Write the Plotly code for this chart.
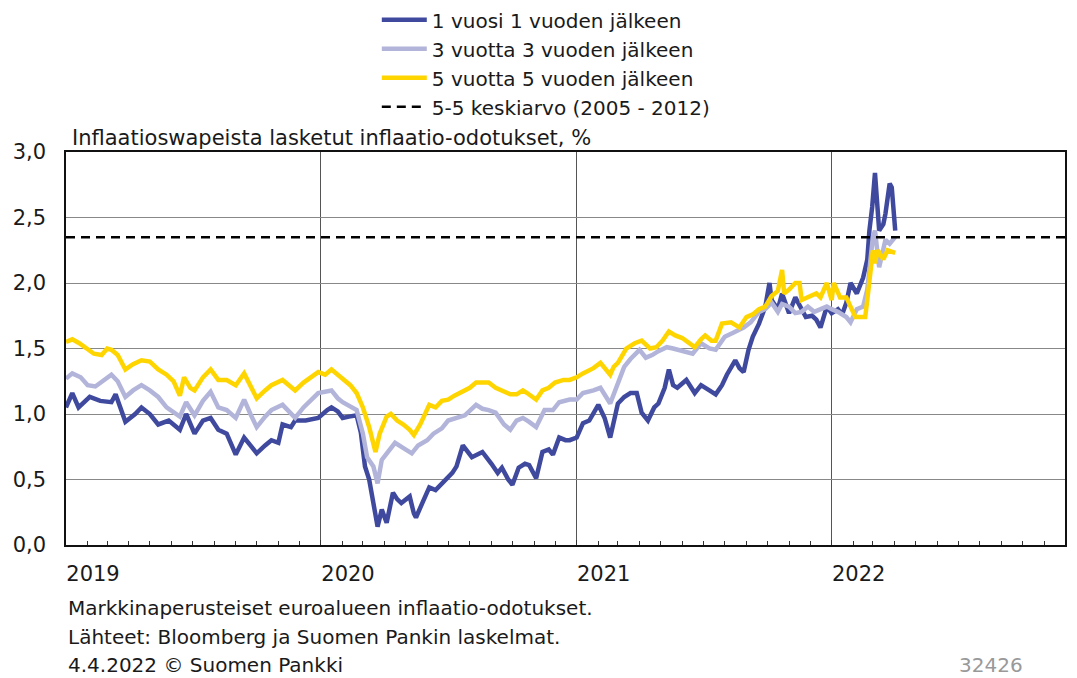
import plotly.graph_objects as go

# ---- data ----
d1_dates = ["2019-01-01","2019-01-10","2019-01-19","2019-02-04","2019-02-19","2019-03-07","2019-03-13","2019-03-27",
            "2019-04-10","2019-04-19","2019-05-01","2019-05-13","2019-05-28","2019-06-13","2019-06-22","2019-07-04",
            "2019-07-16","2019-07-27","2019-08-07","2019-08-19","2019-09-01","2019-09-13","2019-09-22","2019-10-01",
            "2019-10-13","2019-10-22","2019-11-01","2019-11-07","2019-11-19","2019-11-25","2019-12-10","2019-12-28",
            "2020-01-10","2020-01-16","2020-01-25","2020-02-01","2020-02-10","2020-02-21","2020-02-27","2020-03-04",
            "2020-03-10","2020-03-16","2020-03-22","2020-03-28","2020-04-04","2020-04-13","2020-04-19","2020-04-25",
            "2020-05-07","2020-05-13","2020-05-16","2020-05-25","2020-06-04","2020-06-13","2020-06-22","2020-06-28",
            "2020-07-07","2020-07-13","2020-07-22","2020-08-04","2020-08-13","2020-08-19","2020-09-01","2020-09-10",
            "2020-09-16","2020-09-25","2020-10-01","2020-10-10","2020-10-19","2020-10-25","2020-11-04","2020-11-13",
            "2020-11-22","2020-11-28","2020-12-07","2020-12-16","2020-12-22","2021-01-01","2021-01-10","2021-01-19",
            "2021-02-01","2021-02-10","2021-02-18","2021-03-01","2021-03-10","2021-03-19","2021-03-28","2021-04-04",
            "2021-04-13","2021-04-22","2021-04-28","2021-05-07","2021-05-13","2021-05-19","2021-05-25","2021-06-07",
            "2021-06-19","2021-06-28","2021-07-10","2021-07-19","2021-07-28","2021-08-04","2021-08-16","2021-08-22",
            "2021-08-28","2021-09-04","2021-09-10","2021-09-19","2021-09-28","2021-10-04","2021-10-07","2021-10-16",
            "2021-10-22","2021-11-01","2021-11-10","2021-11-19","2021-11-25","2021-12-04","2021-12-10","2021-12-16",
            "2021-12-25","2022-01-01","2022-01-10","2022-01-16","2022-01-22","2022-01-28","2022-02-06","2022-02-15",
            "2022-02-21","2022-02-24","2022-02-28","2022-03-04","2022-03-10","2022-03-16","2022-03-19","2022-03-25",
            "2022-03-28","2022-04-02"]
d1_vals = [1.05,1.16,1.05,1.13,1.10,1.09,1.15,0.94,
           1.00,1.05,1.00,0.92,0.95,0.88,1.00,0.85,
           0.95,0.97,0.88,0.85,0.69,0.82,0.76,0.70,
           0.76,0.80,0.78,0.92,0.90,0.95,0.95,0.97,
           1.03,1.05,1.02,0.97,0.98,0.99,0.86,0.60,
           0.50,0.30,0.14,0.27,0.17,0.40,0.35,0.32,
           0.37,0.24,0.21,0.32,0.44,0.42,0.47,0.50,
           0.55,0.60,0.76,0.67,0.70,0.71,0.62,0.55,
           0.59,0.50,0.46,0.59,0.62,0.61,0.51,0.71,
           0.73,0.69,0.82,0.80,0.80,0.82,0.93,0.95,
           1.07,0.97,0.82,1.08,1.13,1.16,1.16,1.01,
           0.95,1.05,1.08,1.20,1.34,1.22,1.20,1.26,
           1.16,1.22,1.18,1.15,1.22,1.30,1.41,1.35,
           1.32,1.49,1.59,1.69,1.82,2.00,1.87,1.80,
           1.92,1.77,1.89,1.80,1.74,1.75,1.72,1.66,
           1.82,1.77,1.80,1.76,1.85,2.00,1.92,2.04,
           2.18,2.40,2.58,2.84,2.40,2.45,2.53,2.76,
           2.73,2.40]

d3_dates = ["2019-01-01","2019-01-10","2019-01-22","2019-02-01","2019-02-12","2019-02-23","2019-03-07","2019-03-16",
            "2019-03-27","2019-04-07","2019-04-19","2019-05-01","2019-05-13","2019-05-25","2019-06-13","2019-06-22",
            "2019-07-04","2019-07-16","2019-07-27","2019-08-07","2019-08-19","2019-09-01","2019-09-13","2019-09-22",
            "2019-10-01","2019-10-13","2019-10-22","2019-11-07","2019-11-16","2019-11-25","2019-12-07","2019-12-16",
            "2019-12-28","2020-01-16","2020-01-25","2020-02-01","2020-02-15","2020-02-21","2020-03-01","2020-03-07",
            "2020-03-16","2020-03-22","2020-03-28","2020-04-07","2020-04-16","2020-04-28","2020-05-10","2020-05-19",
            "2020-06-01","2020-06-10","2020-06-22","2020-07-01","2020-07-13","2020-07-25","2020-08-10","2020-08-19",
            "2020-08-28","2020-09-07","2020-09-19","2020-09-28","2020-10-07","2020-10-16","2020-10-25","2020-11-04",
            "2020-11-16","2020-11-28","2020-12-07","2020-12-22","2021-01-01","2021-01-10","2021-01-25","2021-02-04",
            "2021-02-18","2021-03-01","2021-03-10","2021-03-19","2021-04-01","2021-04-10","2021-04-19","2021-04-28",
            "2021-05-10","2021-05-19","2021-06-04","2021-06-16","2021-06-28","2021-07-10","2021-07-19","2021-08-01",
            "2021-08-13","2021-08-28","2021-09-07","2021-09-19","2021-09-28","2021-10-07","2021-10-16","2021-10-22",
            "2021-11-01","2021-11-10","2021-11-19","2021-11-28","2021-12-07","2021-12-16","2021-12-25","2022-01-01",
            "2022-01-10","2022-01-22","2022-01-28","2022-02-06","2022-02-15","2022-02-21","2022-02-25","2022-03-01",
            "2022-03-04","2022-03-10","2022-03-19","2022-03-25","2022-04-02"]
d3_vals = [1.27,1.31,1.28,1.22,1.21,1.25,1.30,1.25,
           1.13,1.18,1.22,1.18,1.13,1.05,0.98,1.09,
           0.99,1.10,1.17,1.05,1.03,0.97,1.11,1.00,
           0.90,0.98,1.03,1.07,1.02,0.97,1.05,1.10,
           1.16,1.18,1.12,1.09,1.05,1.03,0.85,0.67,
           0.60,0.47,0.65,0.72,0.78,0.74,0.70,0.76,
           0.80,0.85,0.89,0.95,0.97,0.99,1.07,1.04,
           1.03,1.01,0.92,0.88,0.95,0.97,0.94,0.90,
           1.03,1.03,1.09,1.11,1.11,1.16,1.18,1.20,
           1.08,1.24,1.36,1.42,1.49,1.43,1.45,1.48,
           1.51,1.50,1.48,1.46,1.54,1.50,1.49,1.59,
           1.62,1.66,1.70,1.78,1.80,1.85,1.78,1.84,
           1.82,1.77,1.78,1.82,1.78,1.80,1.82,1.80,
           1.78,1.74,1.70,1.80,1.82,1.95,2.18,2.35,
           2.40,2.12,2.33,2.30,2.35]

d5_dates = ["2019-01-01","2019-01-10","2019-01-20","2019-02-01","2019-02-10","2019-02-21","2019-03-01","2019-03-07",
            "2019-03-16","2019-03-27","2019-04-07","2019-04-19","2019-05-01","2019-05-13","2019-05-25","2019-06-04",
            "2019-06-13","2019-06-19","2019-06-28","2019-07-04","2019-07-16","2019-07-27","2019-08-07","2019-08-19",
            "2019-09-01","2019-09-13","2019-09-22","2019-10-01","2019-10-13","2019-10-22","2019-11-07","2019-11-16",
            "2019-11-25","2019-12-07","2019-12-19","2019-12-28","2020-01-07","2020-01-16","2020-01-25","2020-02-04",
            "2020-02-12","2020-02-21","2020-03-01","2020-03-10","2020-03-19","2020-03-25","2020-04-04","2020-04-10",
            "2020-04-19","2020-04-28","2020-05-07","2020-05-13","2020-05-22","2020-06-04","2020-06-13","2020-06-22",
            "2020-07-01","2020-07-10","2020-07-22","2020-08-01","2020-08-10","2020-08-19","2020-08-28","2020-09-07",
            "2020-09-16","2020-09-28","2020-10-07","2020-10-16","2020-10-22","2020-11-04","2020-11-13","2020-11-22",
            "2020-12-01","2020-12-13","2020-12-22","2021-01-01","2021-01-10","2021-01-19","2021-01-25","2021-02-04",
            "2021-02-12","2021-02-18","2021-02-23","2021-03-01","2021-03-13","2021-03-25","2021-04-04","2021-04-16",
            "2021-04-25","2021-05-04","2021-05-13","2021-05-22","2021-06-01","2021-06-10","2021-06-19","2021-06-28",
            "2021-07-04","2021-07-13","2021-07-19","2021-07-28","2021-08-10","2021-08-22","2021-09-01","2021-09-10",
            "2021-09-19","2021-09-28","2021-10-07","2021-10-16","2021-10-22","2021-10-25","2021-11-01","2021-11-10",
            "2021-11-16","2021-11-19","2021-11-28","2021-12-10","2021-12-16","2021-12-25","2022-01-01","2022-01-04",
            "2022-01-13","2022-01-22","2022-01-28","2022-02-04","2022-02-12","2022-02-18","2022-02-21","2022-02-25",
            "2022-03-01","2022-03-04","2022-03-08","2022-03-16","2022-03-22","2022-04-02"]
d5_vals = [1.55,1.57,1.54,1.50,1.46,1.45,1.50,1.49,
           1.45,1.34,1.38,1.41,1.40,1.34,1.30,1.25,
           1.14,1.28,1.20,1.18,1.28,1.34,1.26,1.26,
           1.22,1.31,1.22,1.12,1.18,1.22,1.26,1.22,
           1.18,1.24,1.28,1.32,1.30,1.34,1.30,1.26,
           1.22,1.16,1.05,0.90,0.71,0.85,0.98,1.00,
           0.95,0.92,0.88,0.84,0.92,1.07,1.05,1.10,
           1.11,1.14,1.17,1.20,1.24,1.24,1.24,1.20,
           1.18,1.15,1.15,1.18,1.16,1.11,1.18,1.20,
           1.24,1.26,1.26,1.28,1.31,1.33,1.35,1.39,
           1.34,1.30,1.36,1.39,1.50,1.54,1.56,1.50,
           1.51,1.56,1.63,1.60,1.58,1.55,1.51,1.57,
           1.60,1.56,1.56,1.69,1.70,1.66,1.74,1.76,
           1.80,1.82,1.90,1.94,2.10,1.92,1.95,2.00,
           2.00,1.87,1.89,1.92,1.89,2.00,1.87,2.00,
           1.89,1.89,1.82,1.74,1.74,1.74,1.87,2.08,
           2.25,2.15,2.25,2.18,2.25,2.23]

avg_5_5 = 2.35
x_range = ["2019-01-01", "2022-12-01"]
year_ticks = ["2019-01-01", "2020-01-01", "2021-01-01", "2022-01-01"]
year_labels = ["2019", "2020", "2021", "2022"]

names = ["1 vuosi 1 vuoden jälkeen", "3 vuotta 3 vuoden jälkeen",
         "5 vuotta 5 vuoden jälkeen", "5-5 keskiarvo (2005 - 2012)"]
colors = ["#3F4A9F", "#B2B5D9", "#FFD500", "#000000"]

FONT = "DejaVu Sans"

fig = go.Figure()
fig.add_trace(go.Scatter(x=d1_dates, y=d1_vals, mode="lines", name=names[0],
                         line=dict(color=colors[0], width=4.5)))
fig.add_trace(go.Scatter(x=d3_dates, y=d3_vals, mode="lines", name=names[1],
                         line=dict(color=colors[1], width=4.5)))
fig.add_trace(go.Scatter(x=d5_dates, y=d5_vals, mode="lines", name=names[2],
                         line=dict(color=colors[2], width=4.5)))
fig.add_trace(go.Scatter(x=x_range, y=[avg_5_5, avg_5_5], mode="lines", name=names[3],
                         line=dict(color=colors[3], width=2.5, dash="9px,6px")))

# the page body has an 8px margin, so the figure is sized to the visible area
fig.update_layout(
    width=1069, height=670,
    margin=dict(l=58, r=12, t=144, b=133, autoexpand=False),
    paper_bgcolor="white", plot_bgcolor="white",
    separators=", ",
    font=dict(family=FONT, size=20, color="#1a1a1a"),
    showlegend=True,
    legend=dict(xref="container", yref="paper", x=0.345, y=1.386,
                xanchor="left", yanchor="top",
                font=dict(family=FONT, size=20, color="#1a1a1a"),
                bgcolor="rgba(0,0,0,0)", itemwidth=45, tracegroupgap=0,
                traceorder="normal"),
    xaxis=dict(type="date", range=x_range, tickvals=year_ticks, ticktext=year_labels,
               showgrid=True, gridcolor="#555555", gridwidth=1,
               showline=True, linecolor="#111111", linewidth=1.5, mirror=True,
               ticks="inside", ticklen=5, tickcolor="#333333",
               ticklabelshift=27, ticklabelstandoff=9,
               tickfont=dict(family=FONT, size=21, color="#1a1a1a"),
               minor=dict(dtick="M1", tick0="2019-01-01", ticks="inside", ticklen=4,
                          tickcolor="#333333", showgrid=False),
               zeroline=False),
    yaxis=dict(range=[0, 3], dtick=0.5, tickformat=".1f",
               showgrid=True, gridcolor="#888888", gridwidth=1,
               showline=True, linecolor="#111111", linewidth=1.5, mirror=True,
               ticks="", ticklabelstandoff=14,
               tickfont=dict(family=FONT, size=21, color="#1a1a1a"),
               zeroline=False),
)

fig.add_annotation(text="Inflaatioswapeista lasketut inflaatio-odotukset, %",
                   xref="paper", yref="paper", x=0.004, y=1.0, xanchor="left", yanchor="bottom",
                   showarrow=False, font=dict(family=FONT, size=21, color="#1a1a1a"))

footer = ["Markkinaperusteiset euroalueen inflaatio-odotukset.",
          "Lähteet: Bloomberg ja Suomen Pankin laskelmat.",
          "4.4.2022 © Suomen Pankki"]
footer_y = [-0.160, -0.234, -0.305]
for t, yy in zip(footer, footer_y):
    fig.add_annotation(text=t, xref="paper", yref="paper", x=0.0, y=yy,
                       xanchor="left", yanchor="middle", showarrow=False,
                       font=dict(family=FONT, size=20, color="#1a1a1a"))
fig.add_annotation(text="32426", xref="paper", yref="paper", x=0.96, y=-0.305,
                   xanchor="right", yanchor="middle", showarrow=False,
                   font=dict(family=FONT, size=20, color="#999999"))

fig.write_html("out.html")
